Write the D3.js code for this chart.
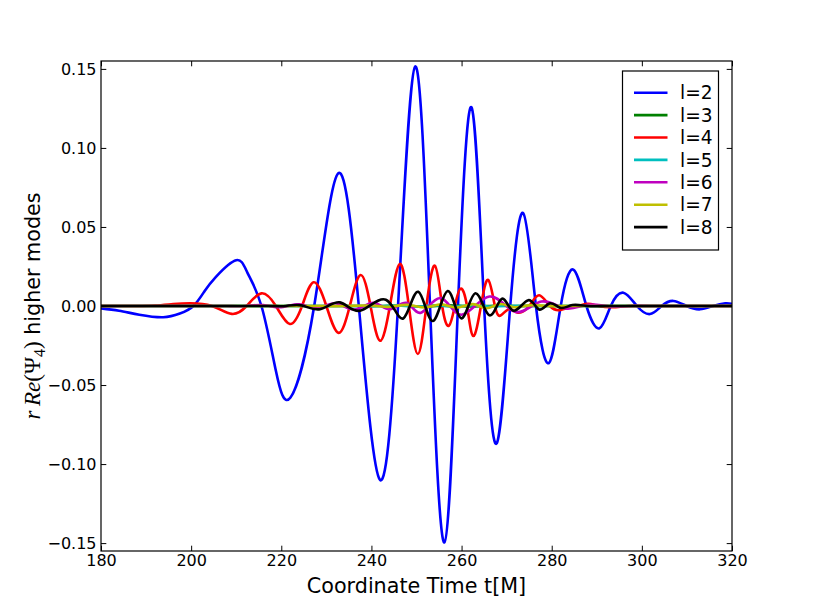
<!DOCTYPE html>
<html>
<head>
<meta charset="utf-8">
<script src="https://cdnjs.cloudflare.com/ajax/libs/d3/7.8.5/d3.min.js"></script>
<style>
  body { margin: 0; background: #fff; }
  svg { display: block; font-family: "DejaVu Sans", sans-serif; }
</style>
</head>
<body>
<svg id="mysvg"></svg>
<script>
// legend entries, one per mode
var modes = ["l=2", "l=3", "l=4", "l=5", "l=6", "l=7", "l=8"];
var modeColors = ["#0000ff", "#008000", "#ff0000", "#00bfbf", "#bf00bf", "#bfbf00", "#000000"];

var xTicks = [180, 200, 220, 240, 260, 280, 300, 320];
var yTicks = [-0.15, -0.10, -0.05, 0, 0.05, 0.10, 0.15];

// [t, r Re(Psi4)]
var l2 = [[180,-0.0015],[184,-0.003],[188.5,-0.0055],[193.8,-0.0071],[197.5,-0.0048],[200.5,0],
  [203,0.0095],[205.5,0.0185],[210,0.029],[212.5,0.021],[215.6,0],[218.8,-0.041],[222,-0.058],[227.3,0],
  [232.65,0.084],[237.2,0],[241.9,-0.110],[245.9,0],[249.7,0.1515],[253,0],[256.2,-0.1496],
  [259.2,0],[262.2,0.1257],[265,0],[267.8,-0.0869],[270.8,0],[273.7,0.0587],[276.5,0],
  [279.4,-0.036],[282,0],[284.8,0.023],[287.7,0],[290.6,-0.0141],[293.1,0],[295.9,0.0084],
  [298.9,0],[301.8,-0.0051],[304.4,0],[307,0.0032],[309.9,0],[312.9,-0.0021],[315.8,0],
  [318.5,0.0017],[320,0.0013]];

var l3 = [[180,0],[195,0],[210,0],[225,0],[235,0],[242,0],[247,0.0003],[252,-0.0004],
  [257,0.0004],[262,-0.0003],[267,0.0002],[272,0],[280,0],[290,0],[300,0],[310,0],[320,0]];

var l4 = [[180,0],[184,0],[188,0],[192,0.0003],[196,0.0012],[199.7,0.0017],[204.6,0],[209,-0.005],
  [212.3,0],[215.6,0.008],[218.8,0],[221.9,-0.0114],[224.6,0],[227.2,0.015],[230,0],[232.7,-0.017],
  [235.2,0],[237.6,0.0196],[239.8,0],[241.9,-0.022],[244.1,0],[246.3,0.0266],[248.3,0],[250.3,-0.0304],
  [252.2,0],[254.1,0.0255],[255.7,0],[257.2,-0.0125],[258.5,0],[259.8,0.011],[261.2,0],[262.6,-0.019],
  [264.3,0],[265.9,0.0165],[267.4,0],[268.7,-0.006],[270.5,-0.002],[272.5,-0.0042],[275,0],
  [277.2,0.0068],[279.6,0],[281.8,-0.0026],[284,-0.0008],[286,0],[288,0.0014],[290.5,0],
  [293.5,-0.0008],[297,0],[301,0],[305,0],[309,0],[313,0],[317,0],[320,0]];

var l5 = [[180,0],[195,0],[210,0],[225,0],[235,0],[242,0],[246,0.0003],[250,-0.0004],[254,0.0005],
  [258,-0.0005],[262,0.0004],[266,-0.0003],[270,0],[278,0],[288,0],[298,0],[308,0],[320,0]];

var l6 = [[180,0],[185,0],[190,0],[195,0],[200,0],[204,0],[208,0],[212,0],[216,0.0006],[220,-0.0008],
  [224,0.001],[228,-0.0013],[232,0.0017],[236.2,-0.0022],[240.4,0.002],[244.1,-0.002],[247.8,0.002],
  [251,-0.0042],[255.4,0.005],[260,-0.0055],[266.2,0.006],[272,-0.0038],[277.7,0.0028],[283,-0.0015],
  [288,0.0008],[293,-0.0003],[298,0],[303,0],[308,0],[313,0],[317,0],[320,0]];

var l7 = [[180,0],[190,0],[200,0],[210,0],[220,0],[228,0],[234,0],[240,0.0003],[244,-0.0005],
  [248,0.0007],[252,-0.0009],[255.5,0.001],[259,-0.001],[262.5,0.0012],[265.5,-0.0014],[268.5,0.0012],
  [271.5,-0.0007],[275,0.0004],[279,0],[284,0],[290,0],[296,0],[302,0],[308,0],[314,0],[320,0]];

var l8 = [[180,0],[185,0],[190,0],[195,0],[200,0],[205,0],[210,0],[214,0],[218,0],[221,0],
  [224.5,0.0004],[228.6,-0.002],[233,0.0023],[237.5,-0.003],[243.2,0.004],[247.1,-0.0078],
  [250.4,0.009],[253.6,-0.0095],[256.9,0.0095],[259.9,-0.0078],[263,0.008],[266.1,-0.0058],
  [268.9,0.0045],[271.5,-0.003],[274.8,0.0037],[277.2,-0.0022],[279.6,0.0017],[282,-0.0012],
  [284.6,0.0006],[288,0],[292,0],[297,0],[302,0],[307,0],[312,0],[316,0],[320,0]];

var series = [l2, l3, l4, l5, l6, l7, l8];

var W = 813, H = 613;
var margin = {top: 61, right: 81, bottom: 62, left: 101},
    width = W - margin.left - margin.right,
    height = H - margin.top - margin.bottom;

var svg = d3.select("#mysvg").attr("width", W).attr("height", H);
svg.append("rect").attr("width", W).attr("height", H).attr("fill", "#fff");

var g = svg.append("g").attr("transform", "translate(" + margin.left + "," + margin.top + ")");

var x = d3.scaleLinear().domain([180, 320]).range([0, width]);
var y = d3.scaleLinear().domain([-0.155, 0.155]).range([height, 0]);

g.append("clipPath").attr("id", "clip")
  .append("rect").attr("width", width).attr("height", height);

var line = d3.line()
  .x(function(d) { return x(d[0]); })
  .y(function(d) { return y(d[1]); })
  .curve(d3.curveNatural);

g.append("g").attr("clip-path", "url(#clip)")
  .selectAll("path")
  .data(series)
  .enter().append("path")
  .attr("d", line)
  .attr("fill", "none")
  .attr("stroke", function(d, i) { return modeColors[i]; })
  .attr("stroke-width", 2.6)
  .attr("stroke-linejoin", "round");

// ticks point inward on all four sides
var tick = 5.3;
var fmtY = d3.format(".2f");

var xb = g.append("g").attr("transform", "translate(0," + height + ")")
  .call(d3.axisBottom(x).tickValues(xTicks).tickSize(-tick).tickPadding(4).tickFormat(d3.format("d")));
var xt = g.append("g")
  .call(d3.axisTop(x).tickValues(xTicks).tickSize(-tick).tickFormat(""));
var yl = g.append("g")
  .call(d3.axisLeft(y).tickValues(yTicks).tickSize(-tick).tickPadding(4.5).tickFormat(fmtY));
var yr = g.append("g").attr("transform", "translate(" + width + ",0)")
  .call(d3.axisRight(y).tickValues(yTicks).tickSize(-tick).tickFormat(""));

[xb, xt, yl, yr].forEach(function(a) {
  a.select(".domain").remove();
  a.attr("font-size", 16).attr("font-family", "DejaVu Sans, sans-serif");
  a.selectAll("line").attr("stroke", "#000").attr("stroke-width", 1);
  a.selectAll("text").attr("fill", "#000");
});

g.append("rect")
  .attr("width", width).attr("height", height)
  .attr("fill", "none").attr("stroke", "#000").attr("stroke-width", 1.2);

// axis labels
svg.append("text")
  .attr("x", margin.left + width / 2).attr("y", 593)
  .attr("text-anchor", "middle")
  .attr("font-size", 20.7)
  .text("Coordinate Time t[M]");

var ylab = svg.append("text")
  .attr("transform", "translate(40," + (margin.top + height / 2) + ") rotate(-90)")
  .attr("text-anchor", "middle")
  .attr("font-size", 20.7);
ylab.append("tspan").attr("font-family", "Liberation Serif").attr("font-style", "italic")
  .attr("font-size", 23).text("r\u2009Re");
ylab.append("tspan").attr("font-family", "Liberation Serif").attr("font-size", 23).text("(\u03A8");
ylab.append("tspan").attr("font-family", "Liberation Serif").attr("font-size", 16).attr("dy", 5).text("4");
ylab.append("tspan").attr("font-family", "Liberation Serif").attr("font-size", 23).attr("dy", -5).text(")");
ylab.append("tspan").text(" higher modes");

// legend
var lg = svg.append("g").attr("transform", "translate(622.5,71)");
lg.append("rect").attr("width", 96).attr("height", 179)
  .attr("fill", "#fff").attr("stroke", "#000").attr("stroke-width", 1.2);

var rows = lg.selectAll(".row").data(modes).enter().append("g")
  .attr("class", "row")
  .attr("transform", function(d, i) { return "translate(0," + (21.7 + i * 22.4) + ")"; });
rows.append("line")
  .attr("x1", 11.5).attr("x2", 45)
  .attr("stroke", function(d, i) { return modeColors[i]; })
  .attr("stroke-width", 2.6);
rows.append("text")
  .attr("x", 57.5).attr("dy", "0.36em")
  .attr("font-size", 18.6)
  .text(function(d) { return d; });
</script>
</body>
</html>
